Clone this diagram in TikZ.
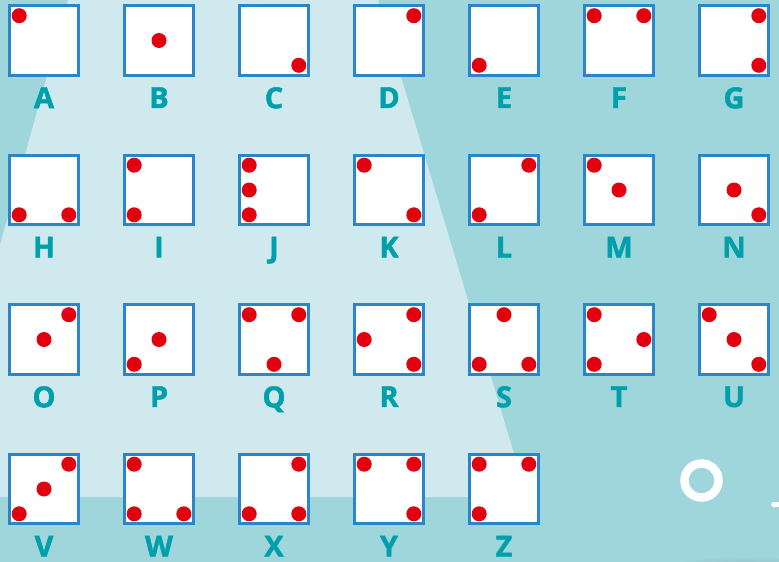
\documentclass[tikz,border=0pt]{standalone}
\usepackage{fontspec}
\setsansfont{Open Sans}
\newfontfamily\letterfont[FakeBold=1.6]{Open Sans Bold}
\usepackage{tikz}
\usetikzlibrary{positioning}
\definecolor{seabg}{HTML}{9ED6DC}
\definecolor{lightbg}{HTML}{D0E9EE}
\definecolor{boxblue}{HTML}{2A86C8}
\definecolor{letterteal}{HTML}{00A0AA}
\definecolor{dotred}{HTML}{E2000F}

\begin{document}
\begin{tikzpicture}[x=1pt,y=-1pt,
    box/.style={draw=boxblue,line width=3pt,fill=white,minimum size=69.5pt,inner sep=0pt},
    letter/.style={font=\letterfont\fontsize{29}{29}\selectfont,text=letterteal,inner sep=0pt,outer sep=0pt},
    dot/.style={fill=dotred}]
  \useasboundingbox (0,0) rectangle (779,562);
  % background
  \fill[seabg] (0,0) rectangle (779,562);
  \fill[lightbg] (68,0) -- (378,0) -- (527,497) -- (0,497) -- (0,245) -- cycle;
  \shade[inner color=seabg!82!black,outer color=seabg] (745,574) ellipse (95pt and 18pt);
  % letters with their dots
  \foreach \ch/\cx/\cy/\spots in {
      A/0/0/{-1/-1}, B/1/0/{0/0}, C/2/0/{1/1}, D/3/0/{1/-1}, E/4/0/{-1/1},
      F/5/0/{-1/-1,1/-1}, G/6/0/{1/-1,1/1},
      H/0/1/{-1/1,1/1}, I/1/1/{-1/-1,-1/1}, J/2/1/{-1/-1,-1/0,-1/1},
      K/3/1/{-1/-1,1/1}, L/4/1/{1/-1,-1/1}, M/5/1/{-1/-1,0/0}, N/6/1/{0/0,1/1},
      O/0/2/{1/-1,0/0}, P/1/2/{0/0,-1/1}, Q/2/2/{-1/-1,1/-1,0/1},
      R/3/2/{1/-1,-1/0,1/1}, S/4/2/{0/-1,-1/1,1/1}, T/5/2/{-1/-1,1/0,-1/1},
      U/6/2/{-1/-1,0/0,1/1},
      V/0/3/{1/-1,0/0,-1/1}, W/1/3/{-1/-1,-1/1,1/1}, X/2/3/{1/-1,-1/1,1/1},
      Y/3/3/{-1/-1,1/-1,1/1}, Z/4/3/{-1/-1,1/-1,-1/1}} {
    \node[box] (b\ch) at ({44+115*\cx},{40.5+149.5*\cy}) {};
    \node[letter,below=10.5pt of b\ch] (l\ch) {\ch};
    \foreach \dx/\dy in \spots
      \fill[dot] ([shift={(24.8*\dx,24.8*\dy)}]b\ch.center) circle (7.5pt);
  }
  % ring and dash
  \node[circle,draw=white,line width=8.5pt,minimum size=34pt,inner sep=0pt] (ring) at (701.5,480.5) {};
  \coordinate (dash) at (774,504.5);
  \draw[white,line width=5.5pt,line cap=round] (dash) -- ++(20,0);
\end{tikzpicture}
\end{document}
